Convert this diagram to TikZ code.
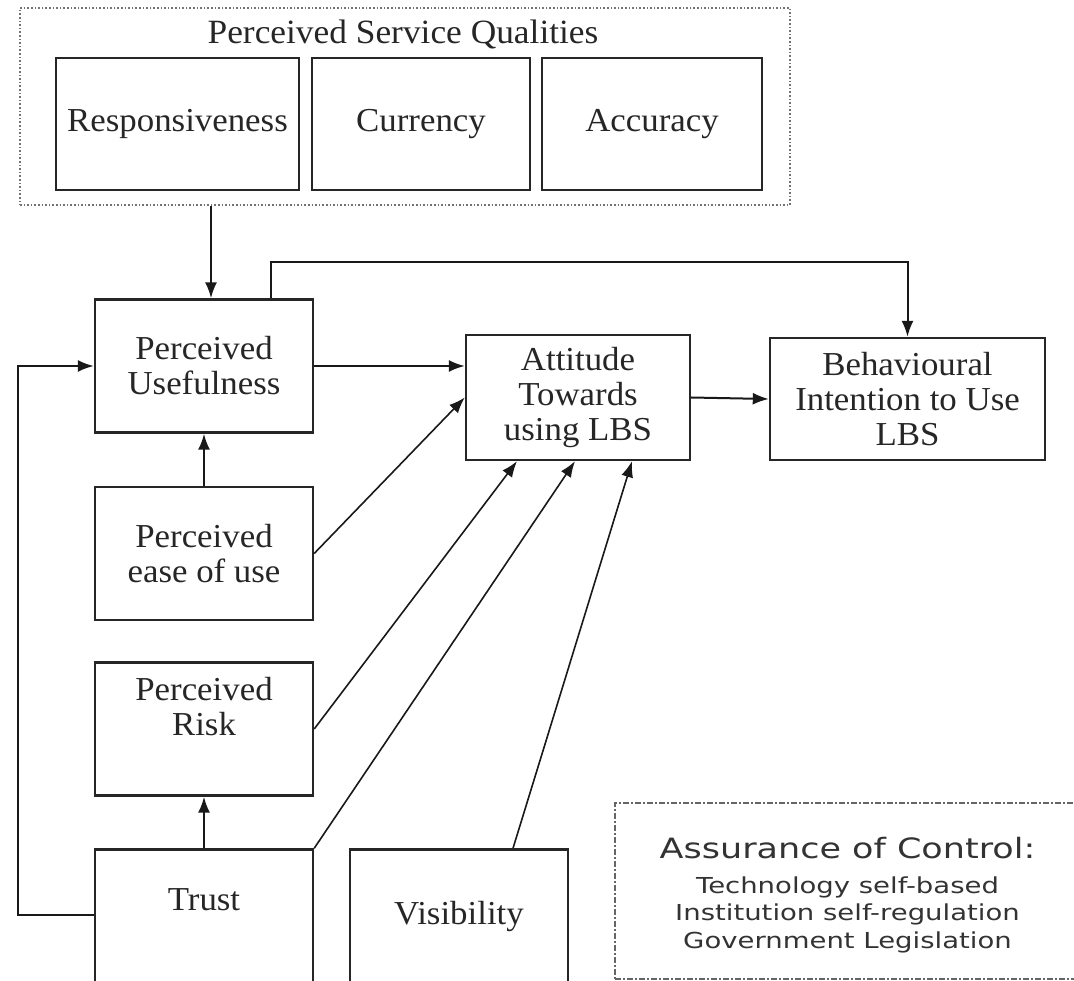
\documentclass[tikz,border=0pt]{standalone}
\usepackage{fontspec}
\setmainfont{Liberation Serif}[FakeStretch=1.04]
\newfontfamily\assfont{DejaVu Sans}[FakeStretch=1.25]
\usetikzlibrary{arrows.meta}
\begin{document}
\begin{tikzpicture}[x=1pt,y=-1pt,
  box/.style={draw=black!85, line width=2.4pt, minimum width=218pt, minimum height=133pt,
    align=center, inner sep=0pt, text=black!85, font=\fontsize{33.5}{35}\selectfont},
  grp/.style={draw=black!55, line width=1.6pt, dotted, inner sep=0pt},
  assbox/.style={draw=black!60, line width=1.6pt, dash pattern=on 6pt off 2pt on 2pt off 2pt,
    inner sep=0pt, align=center, text=black!80},
  arr/.style={draw=black!90, line width=2pt, -{Latex[length=16pt,width=12pt]}},
  arrd/.style={draw=black!90, line width=1.6pt, -{Latex[length=16pt,width=12pt]}},
  ttl/.style={text=black!85, font=\fontsize{34}{36}\selectfont, inner sep=0pt}
]
\useasboundingbox (0,0) rectangle (1074,981);
% group
\node[grp, minimum width=770pt, minimum height=197pt] (psq) at (405,106.5) {};
\node[ttl, anchor=base] (psqt) at (403,44) {Perceived Service Qualities};
\node[box, minimum width=243pt, minimum height=132pt] (resp) at (177.5,124) {Responsiveness};
\node[box, minimum width=218pt, minimum height=132pt] (cur) at (421,124) {Currency};
\node[box, minimum width=220pt, minimum height=132pt] (acc) at (652,124) {Accuracy};
% main boxes
\node[box] (pu) at (204,366) {Perceived\\Usefulness};
\node[box] (peu) at (204,553.5) {Perceived\\ease of use};
\node[box] (pr) at (204,729) {Perceived\\Risk\\\strut};
\node[box] (trust) at (204,916) {\raisebox{32pt}{Trust}};
\node[box] (vis) at (459,916) {Visibility};
\node[box, minimum width=224pt, minimum height=125pt] (att) at (578,397.5) {Attitude\\Towards\\using LBS};
\node[box, minimum width=275pt, minimum height=122pt] (bi) at (907.5,399) {Behavioural\\Intention to Use\\LBS};
% assurance
\node[assbox, minimum width=465pt, minimum height=176pt,
  font=\assfont\fontsize{22}{27.5}\selectfont] (ass) at (847.5,891)
  {\rule{0pt}{30pt}{\fontsize{28}{28}\selectfont Assurance of Control:}\\[7pt]
   Technology self-based\\Institution self-regulation\\Government Legislation};
% connectors
\draw[arr] (psq.south -| 211,0) -- (pu.north -| 211,0);
\draw[arr] (pu.north -| 271,0) -- (271,262) -| (bi.north);
\draw[arr] (pu.east) -- (pu.east -| att.west);
\draw[arr] (att.east) -- (bi.west);
\draw[arr] (peu.north) -- (pu.south);
\draw[arr] (trust.north) -- (pr.south);
\draw[arr] (trust.west |- 0,915) -- (18,915) |- (pu.west);
\draw[arrd] (peu.east) -- (att.west);
\draw[arrd] (pr.east) -- (att.south -| 517,0);
\draw[arrd] (trust.north east) -- (att.south -| 575,0);
\draw[arrd] (vis.north -| 513,0) -- (att.south -| 632,0);
\end{tikzpicture}
\end{document}
